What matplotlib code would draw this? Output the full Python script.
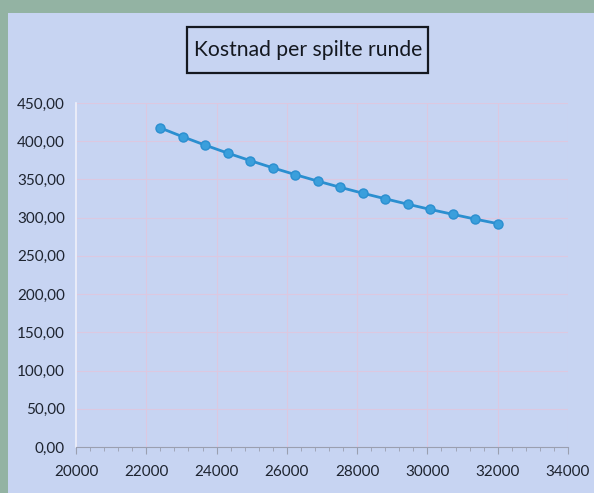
import matplotlib
matplotlib.use("Agg")
import matplotlib.pyplot as plt
from matplotlib.patches import Rectangle
from matplotlib.ticker import FuncFormatter, MultipleLocator

# spilte runder (x) og kostnad per runde (y)
runder = [22400, 23040, 23680, 24320, 24960, 25600, 26240, 26880,
          27520, 28160, 28800, 29440, 30080, 30720, 31360, 32000]
kostnad = [417.4, 405.8, 394.8, 384.4, 374.6, 365.2, 356.3, 347.8,
           339.7, 332.0, 324.7, 317.6, 310.8, 304.4, 298.1, 292.2]
x_ticks = [20000, 22000, 24000, 26000, 28000, 30000, 32000, 34000]
y_ticks = [0, 50, 100, 150, 200, 250, 300, 350, 400, 450]
title = "Kostnad per spilte runde"

plt.rcParams["font.family"] = ["Lato", "DejaVu Sans"]

W, H = 594, 493
fig = plt.figure(figsize=(W / 100, H / 100), dpi=100)
fig.patch.set_facecolor("#93b3a3")
bg = "#c7d4f2"
fig.add_artist(Rectangle((8 / W, 0), 1, 1 - 13 / H, transform=fig.transFigure,
                         facecolor=bg, edgecolor="none", zorder=0))

ax = fig.add_axes([76 / W, 1 - 447 / H, 492 / W, 344 / H])
ax.set_facecolor(bg)
ax.plot(runder, kostnad, "-o", color="#2b8fd0", markerfacecolor="#3a9fdc",
        markeredgecolor="#2b8fd0", markersize=6.5, linewidth=2, zorder=3)

ax.set_xlim(20000, 34000)
ax.set_ylim(0, 450)
ax.set_xticks(x_ticks)
ax.set_yticks(y_ticks)
ax.xaxis.set_minor_locator(MultipleLocator(400))
ax.yaxis.set_major_formatter(FuncFormatter(lambda v, p: f"{v:.2f}".replace(".", ",")))
ax.grid(True, color="#dcc8e0", linewidth=0.8)
ax.set_axisbelow(True)

for s in ("top", "right"):
    ax.spines[s].set_visible(False)
ax.spines["left"].set_color("#eef1fb")
ax.spines["left"].set_linewidth(1.2)
ax.spines["bottom"].set_color("#9a9fb0")
ax.tick_params(axis="y", length=0, pad=8, labelsize=11, labelcolor="#1e2430")
ax.tick_params(axis="x", which="major", length=5, direction="out", color="#9a9fb0",
               pad=8, labelsize=11, labelcolor="#1e2430")
ax.tick_params(axis="x", which="minor", length=3, direction="out", color="#9a9fb0")

# tittel med ramme
fig.add_artist(Rectangle((187 / W, 1 - 73 / H), 241 / W, 46 / H,
                         transform=fig.transFigure, facecolor=bg,
                         edgecolor="#141820", linewidth=1.6, zorder=2))
fig.text(308 / W, 1 - 50 / H, title, ha="center", va="center", fontsize=15.2,
         color="#141820", zorder=3)

fig.savefig("out.png", dpi=100, facecolor=fig.get_facecolor())
